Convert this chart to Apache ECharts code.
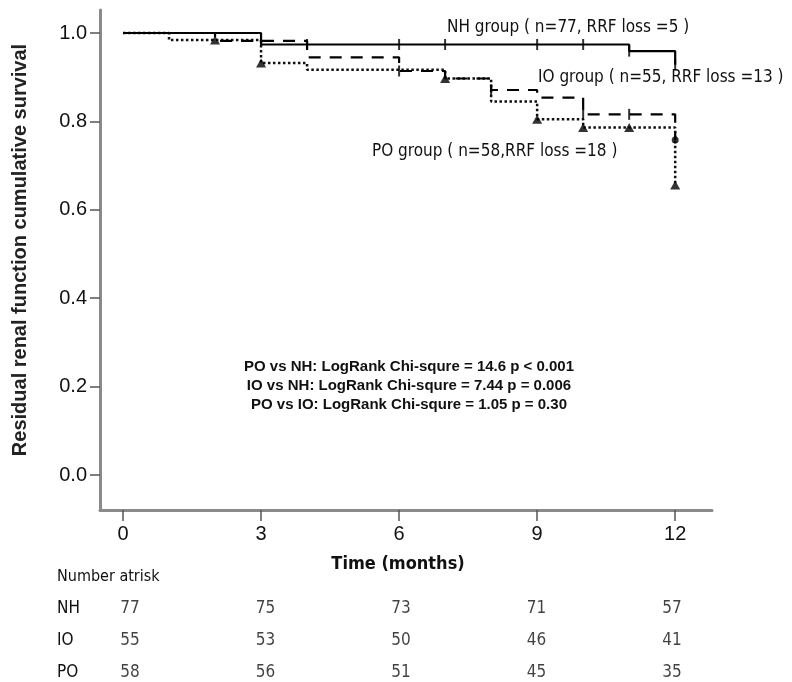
<!DOCTYPE html>
<html>
<head>
<meta charset="utf-8">
<script src="https://cdn.jsdelivr.net/npm/echarts@6/dist/echarts.min.js"></script>
<style>
html,body{margin:0;padding:0;background:#fff}
#km{width:792px;height:682px}
</style>
</head>
<body>
<div id="km"></div>
<script>
// step points: month, cumulative survival
var nhTime = [0, 3, 11, 12];
var nhSurv = [1.0, 0.974, 0.959, 0.928];
var ioTime = [0, 2, 4, 6, 7, 8, 9, 10, 12];
var ioSurv = [1.0, 0.982, 0.945, 0.914, 0.897, 0.871, 0.854, 0.816, 0.758];
var poTime = [0, 1, 3, 4, 7, 8, 9, 10, 12];
var poSurv = [1.0, 0.984, 0.932, 0.917, 0.897, 0.845, 0.805, 0.786, 0.656];

// censor marks
var nhCensTime = [4, 6, 7, 9, 10, 11, 12];
var nhCensSurv = [0.974, 0.974, 0.974, 0.974, 0.974, 0.959, 0.928];
var ioCensTime = [6, 8, 10, 11];
var ioCensSurv = [0.914, 0.871, 0.816, 0.816];
var ioEndTime = [12];
var ioEndSurv = [0.758];
var poCensTime = [2, 3, 7, 9, 10, 11, 12];
var poCensSurv = [0.984, 0.932, 0.897, 0.805, 0.786, 0.786, 0.656];

// number at risk
var riskTimes = [0, 3, 6, 9, 12];
var riskGroups = ['NH', 'IO', 'PO'];
var riskNH = [77, 75, 73, 71, 57];
var riskIO = [55, 53, 50, 46, 41];
var riskPO = [58, 56, 51, 45, 35];

var xTicks = [0, 3, 6, 9, 12];
var yTicks = [0, 0.2, 0.4, 0.6, 0.8, 1.0];

var groupLabels = [
    'NH group ( n=77, RRF loss =5 )',
    'IO group ( n=55, RRF loss =13 )',
    'PO group ( n=58,RRF loss =18 )'
];
var statLines = [
    'PO vs NH: LogRank Chi-squre = 14.6 p < 0.001',
    'IO vs NH: LogRank Chi-squre = 7.44 p = 0.006',
    'PO vs IO: LogRank Chi-squre = 1.05 p = 0.30'
];

function pairs(t, s){
    var out = [];
    for(var i=0;i<t.length;i++){
        out.push([t[i], s[i]]);
    }
    return out;
}
function riskRow(name, vals){
    var out = [];
    for(var i=0;i<riskTimes.length;i++){
        out.push([riskTimes[i], name, vals[i]]);
    }
    return out;
}

var axisGray = '#8a8a8a';
var narrow = "'Liberation Sans Narrow', 'DejaVu Sans Condensed', sans-serif";
var sans = "'Liberation Sans', Arial, sans-serif";

var myChart = echarts.init(document.getElementById('km'));

var riskLabel = {
    show: true,
    position: 'inside',
    formatter: function(p){ return p.value[2]; },
    fontFamily: narrow,
    fontSize: 17,
    color: '#111'
};

var option = {
    backgroundColor: '#fff',
    animation: false,
    grid: [
        {left: 100, right: 80, top: 10, bottom: 172},
        {left: 130, right: 120, top: 609, bottom: 9}
    ],
    xAxis: [
        {
            type: 'value',
            gridIndex: 0,
            min: -0.5,
            max: 12.8,
            name: 'Time (months)',
            nameLocation: 'middle',
            nameGap: 45,
            nameTextStyle: {fontSize: 18, fontWeight: 'bold', color: '#111', fontFamily: narrow, padding: [0, 16, 0, 0]},
            axisLine: {onZero: false, lineStyle: {color: axisGray, width: 3}},
            axisTick: {customValues: xTicks, length: 11, lineStyle: {color: '#555', width: 1.5}},
            axisLabel: {customValues: xTicks, margin: 14, fontSize: 20, color: '#111', fontFamily: sans},
            splitLine: {show: false}
        },
        {
            type: 'value',
            gridIndex: 1,
            min: 0,
            max: 12,
            show: false
        }
    ],
    yAxis: [
        {
            type: 'value',
            gridIndex: 0,
            min: -0.079,
            max: 1.052,
            name: 'Residual renal function cumulative survival',
            nameLocation: 'middle',
            nameGap: 70,
            nameTextStyle: {fontSize: 20, fontWeight: 'bold', color: '#222', fontFamily: sans, padding: [0, 0, 0, 20]},
            axisLine: {onZero: false, lineStyle: {color: axisGray, width: 3}},
            axisTick: {customValues: yTicks, length: 10, lineStyle: {color: '#555', width: 1.5}},
            axisLabel: {
                customValues: yTicks,
                margin: 13,
                fontSize: 20,
                color: '#111',
                fontFamily: sans,
                formatter: function(v){ return v.toFixed(1); }
            },
            splitLine: {show: false}
        },
        {
            type: 'category',
            gridIndex: 1,
            data: riskGroups,
            inverse: true,
            boundaryGap: false,
            axisLine: {show: false},
            axisTick: {show: false},
            axisLabel: {align: 'left', margin: 73, fontSize: 17, color: '#111', fontFamily: narrow}
        }
    ],
    series: [
        {
            name: 'NH',
            type: 'line',
            step: 'end',
            symbol: 'none',
            data: pairs(nhTime, nhSurv),
            lineStyle: {color: '#000', width: 2.2, type: 'solid'},
            z: 5
        },
        {
            name: 'IO',
            type: 'line',
            step: 'end',
            symbol: 'none',
            data: pairs(ioTime, ioSurv),
            lineStyle: {color: '#000', width: 2.2, type: [12, 9]},
            z: 4
        },
        {
            name: 'PO',
            type: 'line',
            step: 'end',
            symbol: 'none',
            data: pairs(poTime, poSurv),
            lineStyle: {color: '#111', width: 2.5, type: [2.5, 2.5]},
            z: 3
        },
        {
            type: 'scatter',
            data: pairs(nhCensTime, nhCensSurv),
            symbol: 'rect',
            symbolSize: [2, 11],
            itemStyle: {color: '#000'},
            z: 6
        },
        {
            type: 'scatter',
            data: pairs(ioCensTime, ioCensSurv),
            symbol: 'rect',
            symbolSize: [2, 11],
            itemStyle: {color: '#000'},
            z: 6
        },
        {
            type: 'scatter',
            data: pairs(ioEndTime, ioEndSurv),
            symbol: 'circle',
            symbolSize: 7,
            itemStyle: {color: '#000'},
            z: 6
        },
        {
            type: 'scatter',
            data: pairs(poCensTime, poCensSurv),
            symbol: 'triangle',
            symbolSize: [10, 9],
            itemStyle: {color: '#000'},
            z: 6
        },
        {
            type: 'scatter', xAxisIndex: 1, yAxisIndex: 1,
            data: riskRow('NH', riskNH), symbolSize: 1,
            itemStyle: {color: 'rgba(0,0,0,0)'}, label: riskLabel
        },
        {
            type: 'scatter', xAxisIndex: 1, yAxisIndex: 1,
            data: riskRow('IO', riskIO), symbolSize: 1,
            itemStyle: {color: 'rgba(0,0,0,0)'}, label: riskLabel
        },
        {
            type: 'scatter', xAxisIndex: 1, yAxisIndex: 1,
            data: riskRow('PO', riskPO), symbolSize: 1,
            itemStyle: {color: 'rgba(0,0,0,0)'}, label: riskLabel
        }
    ],
    graphic: [
        {type: 'text', left: 447, top: 19, style: {text: groupLabels[0], fontSize: 17, fill: '#111', fontFamily: narrow}},
        {type: 'text', left: 538, top: 69, style: {text: groupLabels[1], fontSize: 17, fill: '#111', fontFamily: narrow}},
        {type: 'text', left: 372, top: 143, style: {text: groupLabels[2], fontSize: 17, fill: '#111', fontFamily: narrow}},
        {type: 'text', x: 409, y: 367, style: {text: statLines[0], fontSize: 15, fontWeight: 'bold', fill: '#111', align: 'center', verticalAlign: 'middle', fontFamily: sans}},
        {type: 'text', x: 409, y: 386, style: {text: statLines[1], fontSize: 15, fontWeight: 'bold', fill: '#111', align: 'center', verticalAlign: 'middle', fontFamily: sans}},
        {type: 'text', x: 409, y: 405, style: {text: statLines[2], fontSize: 15, fontWeight: 'bold', fill: '#111', align: 'center', verticalAlign: 'middle', fontFamily: sans}},
        {type: 'text', left: 57, top: 569, style: {text: 'Number atrisk', fontSize: 16, fill: '#111', fontFamily: narrow}}
    ]
};

myChart.setOption(option);
</script>
</body>
</html>
